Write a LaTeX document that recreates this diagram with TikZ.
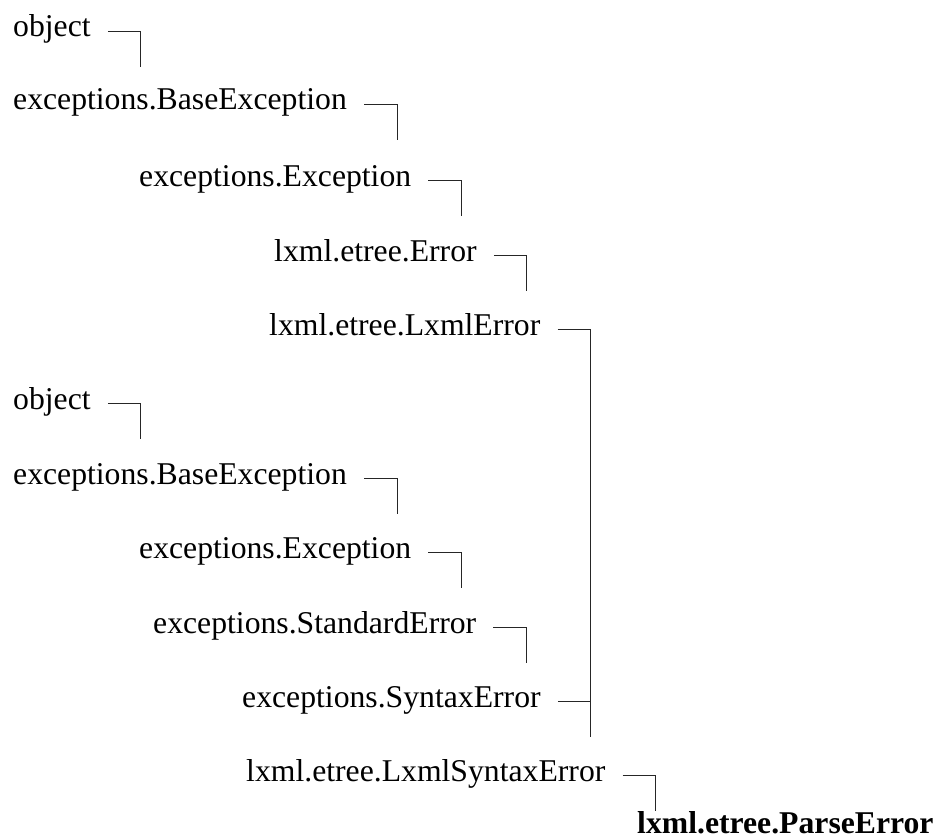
\documentclass[tikz,border=0pt]{standalone}
\usepackage{fontspec}
\setmainfont{Liberation Serif}

\begin{document}
\begin{tikzpicture}[x=1pt,y=-1pt,
  cls/.style={anchor=base west,inner sep=0pt,font=\fontsize{31.7}{38}\selectfont},
  link/.style={draw,line width=0.9pt,black!85}]
\path[use as bounding box] (0,0) rectangle (940,840);

\node[cls] (o1) at (13,37) {object};
\node[cls] (b1) at (13,110) {exceptions.BaseException};
\node[cls] (e1) at (139,186) {exceptions.Exception};
\node[cls] (er) at (274,261) {lxml.etree.Error};
\node[cls] (lx) at (269,335) {lxml.etree.LxmlError};
\node[cls] (o2) at (13,409) {object};
\node[cls] (b2) at (13,484) {exceptions.BaseException};
\node[cls] (e2) at (139,558) {exceptions.Exception};
\node[cls] (se) at (153,633) {exceptions.StandardError};
\node[cls] (sy) at (242,707) {exceptions.SyntaxError};
\node[cls] (ls) at (246,781) {lxml.etree.LxmlSyntaxError};
\node[cls,font=\fontsize{31.7}{38}\selectfont\bfseries] (pe) at (637,833) {lxml.etree.ParseError};

\path[link] ([shift={(17,-6)}]o1.base east) -- ++(33,0) -- ++(0,36);
\path[link] ([shift={(17,-6)}]b1.base east) -- ++(33,0) -- ++(0,36);
\path[link] ([shift={(17,-6)}]e1.base east) -- ++(33,0) -- ++(0,36);
\path[link] ([shift={(17,-6)}]er.base east) -- ++(33,0) -- ++(0,36);
\path[link] ([shift={(17,-6)}]lx.base east) -- ++(33,0) -- ++(0,408);

\path[link] ([shift={(17,-6)}]o2.base east) -- ++(33,0) -- ++(0,36);
\path[link] ([shift={(17,-6)}]b2.base east) -- ++(33,0) -- ++(0,36);
\path[link] ([shift={(17,-6)}]e2.base east) -- ++(33,0) -- ++(0,36);
\path[link] ([shift={(17,-6)}]se.base east) -- ++(33,0) -- ++(0,36);
\path[link] ([shift={(17,-6)}]sy.base east) -- ++(33,0) -- ++(0,36);
\path[link] ([shift={(17,-6)}]ls.base east) -- ++(33,0) -- ++(0,36);
\end{tikzpicture}
\end{document}
